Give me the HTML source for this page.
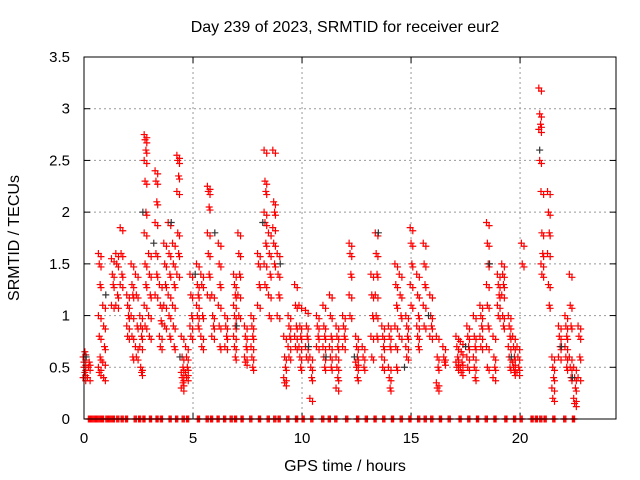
<!DOCTYPE html>
<html><head><meta charset="utf-8"><style>
body{margin:0;background:#fff;}
svg{display:block;font-family:"Liberation Sans",sans-serif;}
</style></head><body>
<svg id="chart" width="640" height="480">
<text x="345" y="32" font-size="16" text-anchor="middle">Day 239 of 2023, SRMTID for receiver eur2</text>
<text x="345" y="471" font-size="16" text-anchor="middle">GPS time / hours</text>
<text transform="translate(19,238) rotate(-90)" font-size="16" text-anchor="middle">SRMTID / TECUs</text>
<g id="grid"></g><g id="ticks"></g><g id="marks"></g>
<rect x="84" y="57" width="532" height="362" fill="none" stroke="#000" stroke-width="1"/>
</svg>
<script>
const xTicks=[0,5,10,15,20];
const yTicks=[0,0.5,1,1.5,2,2.5,3,3.5];
const yTickLabels=["0","0.5","1","1.5","2","2.5","3","3.5"];
const times=[0.0,0.2,0.7,0.9,1.3,1.5,1.7,2.0,2.2,2.4,2.6,2.8,3.0,3.3,3.5,3.7,3.9,4.1,4.3,4.5,4.7,4.9,5.2,5.4,5.7,5.9,6.2,6.5,6.9,7.1,7.4,7.7,8.0,8.3,8.5,8.7,8.9,9.2,9.4,9.7,9.9,10.2,10.4,10.7,11.0,11.3,11.6,11.9,12.2,12.5,12.8,13.2,13.4,13.7,14.0,14.3,14.5,14.8,15.0,15.3,15.6,15.9,16.2,16.5,17.1,17.3,17.6,17.9,18.2,18.5,18.8,19.0,19.2,19.5,19.7,19.9,20.1,20.9,21.0,21.3,21.5,21.8,22.1,22.3,22.5,22.7];
const values=[[.6,.5,.45,.4,.55,.65],[.4,.5,.55],[1.6,1.5,1.3,1.0,.8,.6,.5,.45],[1.1,.9,.7,.55,.4],[1.55,1.4,1.3,1.1],[1.6,1.5,1.2,1.1],[1.85,1.6,1.4,1.3],[1.2,1.1,1.0,.9,.8],[1.5,1.3,1.2,1.0,.8,.6],[1.4,1.2,.9,.7,.6],[1.0,.9,.8,.7,.5,.45],[2.75,2.7,2.6,2.5,2.3,2.0,1.8,1.5,1.3,1.1,.9],[1.6,1.4,1.2,1.0,.8],[2.4,2.3,2.1,1.9,1.6,1.4,1.2],[1.3,1.1,.95,.8,.7],[1.7,1.5,1.3,1.1,.9],[1.9,1.6,1.4,1.2,1.0,.8],[1.7,1.5,1.3,1.1,.9,.7],[2.55,2.5,2.35,2.2,1.8,1.6,1.4],[.8,.6,.5,.45,.4,.35,.3],[.7,.6,.5,.45,.4],[1.4,1.2,1.0,.9,.8],[1.5,1.3,1.2,1.1,1.0,.9],[1.4,1.3,1.0,.8,.7],[2.25,2.2,2.05,1.8,1.6,1.4,1.2],[1.2,1.0,.9,.8],[1.7,1.5,1.3,1.1,.9,.7],[1.0,.9,.8,.7],[1.4,1.3,1.2,1.1,1.0,.9,.8,.7,.6],[1.8,1.6,1.4,1.2,1.0],[.9,.8,.7,.6,.55],[1.0,.9,.8,.7,.6,.5],[1.6,1.5,1.3,1.1],[2.6,2.3,2.2,2.0,1.9,1.7,1.5,1.3],[1.8,1.6,1.4,1.2,1.0],[2.6,2.1,2.0,1.85,1.7,1.5],[1.6,1.4,1.2,1.0],[.8,.6,.5,.4,.35],[1.0,.9,.8,.7,.6],[1.3,1.1,.9,.8,.7],[1.1,.9,.8,.7,.6,.5],[1.05,.9,.8,.7,.6],[.6,.5,.4,.2],[1.0,.9,.8,.7],[1.1,.9,.8,.7,.6,.5],[1.2,1.0,.8,.7,.6,.5],[.9,.8,.7,.6,.5,.4,.3],[1.0,.9,.8,.7],[1.7,1.6,1.4,1.2,1.0],[.8,.7,.6,.55,.5,.4],[.7,.6,.5],[1.4,1.2,1.0,.8,.6],[1.8,1.6,1.4,1.2,1.0,.8],[.9,.8,.7,.6,.5],[.9,.8,.7,.5,.4,.3],[1.5,1.3,1.1,.9,.7,.5],[1.4,1.2,1.0,.8],[1.0,.9,.8,.7,.6],[1.85,1.7,1.5,1.3,1.1],[1.4,1.2,1.0,.9,.8,.7],[1.7,1.5,1.3,1.1,.9],[1.2,1.0,.9,.8],[.8,.6,.5,.35,.3],[.7,.6,.55],[.8,.7,.6,.55,.5],[.75,.65,.55,.5,.45],[.9,.8,.7,.6,.5],[1.0,.8,.7,.6,.5,.4],[1.1,1.0,.9,.8,.7],[1.9,1.7,1.5,1.3,1.1,.9,.7,.5],[.8,.6,.5,.4],[1.4,1.3,1.2,1.1,1.0],[1.5,1.4,1.3,1.2,1.0,.9],[1.0,.9,.8,.7,.6,.5],[.8,.7,.6,.55,.5,.45],[.7,.6,.5,.45],[1.7,1.5],[3.2,2.95,2.85,2.8,2.5],[2.2,1.8,1.6,1.5,1.4],[2.2,2.0,1.8,1.6,1.3,1.1],[.6,.5,.4,.3,.2],[.9,.8,.7,.6],[1.0,.9,.8,.7,.6,.5],[1.4,1.1,.9,.6,.5,.4],[.5,.4,.3,.2,.15],[.9,.8,.6,.4]];
const grayTimes=[0.1,1.0,2.7,3.2,4.0,4.4,5.1,6.0,7.0,8.2,9.0,10.3,11.1,12.4,13.5,14.7,15.8,17.5,18.6,19.6,20.9,21.9,22.4];
const grayValues=[0.6,1.2,2.0,1.7,1.9,0.6,1.4,1.8,0.9,1.9,1.5,0.7,0.6,0.6,1.8,0.5,1.0,0.7,1.5,0.6,2.6,0.7,0.4];
const zeroTimes=[0.2,0.35,0.5,0.65,0.8,1.0,1.15,1.3,1.5,1.7,1.9,2.3,2.5,2.7,3.0,3.3,3.5,3.9,4.2,4.5,4.7,5.2,5.6,5.8,6.1,6.4,6.7,6.9,7.2,7.6,8.0,8.4,8.7,8.9,9.3,9.7,10.0,10.4,10.9,11.2,11.5,12.0,12.5,12.9,13.3,13.7,14.1,14.5,14.9,15.3,15.6,15.9,16.3,16.7,17.2,17.6,18.0,18.4,18.8,19.3,19.7,20.0,20.5,20.7,20.9,21.1,21.5,22.0,22.4];
const X0=84,X1=616,XMAX=24.4,Y0=419,Y1=57,YMAX=3.5;
const xs=v=>X0+(X1-X0)*v/XMAX, ys=v=>Y0-(Y0-Y1)*v/YMAX;
const NS="http://www.w3.org/2000/svg";
function mk(tag,parent,attrs){const e=document.createElementNS(NS,tag);for(const k in attrs)e.setAttribute(k,attrs[k]);parent.appendChild(e);return e;}
const grid=document.getElementById('grid'),ticks=document.getElementById('ticks'),marks=document.getElementById('marks');
xTicks.forEach(t=>{const x=xs(t);
 if(t>0){const g=mk('line',grid,{x1:x,x2:x,y1:Y1,y2:Y0,stroke:'#999','stroke-dasharray':'2,3'});
 
 }
 mk('line',ticks,{x1:x,x2:x,y1:Y0,y2:Y0-6,stroke:'#000'});mk('line',ticks,{x1:x,x2:x,y1:Y1,y2:Y1+6,stroke:'#000'});
 const l=mk('text',ticks,{x:x,y:Y0+24,'font-size':15,'text-anchor':'middle'});l.textContent=t;
 
 });
yTicks.forEach((t,i)=>{const y=ys(t);
 if(t>0&&t<YMAX){const g=mk('line',grid,{x1:X0,x2:X1,y1:y,y2:y,stroke:'#999','stroke-dasharray':'2,3'});
 
 }
 mk('line',ticks,{x1:X0,x2:X0+6,y1:y,y2:y,stroke:'#000'});mk('line',ticks,{x1:X1,x2:X1-6,y1:y,y2:y,stroke:'#000'});
 const l=mk('text',ticks,{x:X0-14,y:y+5,'font-size':15,'text-anchor':'end'});l.textContent=yTickLabels[i];
 
 });
function cross(t,v,c,name){const x=xs(t),y=ys(v);
 const p=mk('path',marks,{d:`M${x-3.5},${y}h7M${x},${y-3.5}v7`,stroke:c,'stroke-width':1.2,fill:'none'});
 
 }
times.forEach((t,i)=>values[i].forEach((v,j)=>{cross(t+(j%3-1)*0.04,v,'#f00','srmtid-point');cross(t+0.08,v-0.03,'#f00','srmtid-point');}));
grayTimes.forEach((t,i)=>cross(t,grayValues[i],'#333','srmtid-point-gray'));
zeroTimes.forEach(t=>{cross(t,0,'#f00','zero-point');cross(t+0.05,0,'#f00','zero-point');cross(t+0.1,0,'#f00','zero-point');});
</script>
</body></html>
